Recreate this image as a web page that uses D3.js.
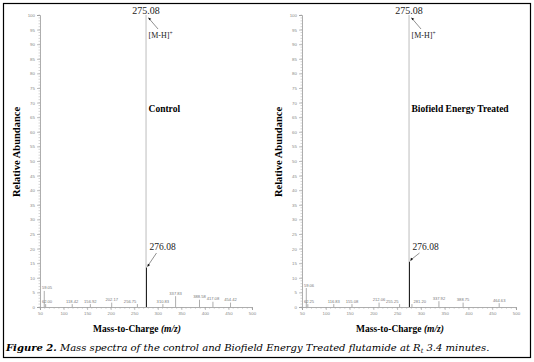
<!DOCTYPE html>
<html><head><meta charset="utf-8">
<script src="https://cdn.jsdelivr.net/npm/d3@7"></script>
<style>body{margin:0;background:#fff}svg{display:block}</style></head>
<body>
<script>
// ---- data ----
const controlMz = [59.05, 62.00, 118.42, 156.92, 202.17, 256.75, 275.08, 276.08, 310.83, 337.83, 388.58, 417.08, 454.42];
const controlAb = [5.5, 1.0, 1.0, 1.0, 1.5, 1.0, 100, 13.5, 1.0, 3.7, 2.5, 1.8, 1.5];
const treatedMz = [59.06, 62.25, 116.83, 155.08, 212.06, 255.25, 275.08, 276.08, 281.20, 337.92, 388.75, 464.63];
const treatedAb = [6.5, 1.0, 1.0, 1.0, 1.5, 1.0, 100, 15.5, 1.0, 2.0, 1.5, 1.3];
const xTicks = [50, 100, 150, 200, 250, 300, 350, 400, 450, 500];
const yTicks = d3.range(0, 101, 5);
const yMinor = d3.range(0, 101, 1);
const xMinor = d3.range(50, 501, 10);
const panelTitles = ["Control", "Biofield Energy Treated"];

const W = 534, H = 362;
const svg = d3.select("body").append("svg").attr("width", W).attr("height", H);
svg.append("rect").attr("x", 3.5).attr("y", 3.5).attr("width", 527).attr("height", 354)
  .attr("fill", "#fff").attr("stroke", "#000").attr("stroke-width", 1.2);

const serif = "'Liberation Serif', 'DejaVu Serif', serif";
const sans = "'Liberation Sans', Arial, sans-serif";

function panel(x0, x1, mz, ab, title) {
  const x = d3.scaleLinear().domain([50, 500]).range([x0, x1]);
  const y = d3.scaleLinear().domain([0, 100]).range([307, 15]);
  const g = svg.append("g");

  // y axis
  const ya = g.append("g").attr("transform", `translate(${x0},0)`)
    .call(d3.axisLeft(y).tickValues(yTicks).tickSize(3).tickPadding(2).tickFormat(d3.format("d")));
  ya.select(".domain").attr("stroke", "#999").attr("stroke-width", 0.8);
  ya.selectAll(".tick line").attr("stroke", "#999").attr("stroke-width", 0.6);
  ya.selectAll("text").attr("font-family", sans).attr("font-size", 4.4).attr("fill", "#888");
  g.append("g").selectAll("line").data(yMinor).join("line")
    .attr("x1", x0).attr("x2", x0 - 1.5).attr("y1", d => y(d)).attr("y2", d => y(d))
    .attr("stroke", "#aaa").attr("stroke-width", 0.5);

  // x axis
  const xa = g.append("g").attr("transform", `translate(0,307)`)
    .call(d3.axisBottom(x).tickValues(xTicks).tickSize(3).tickPadding(2).tickFormat(d3.format("d")));
  xa.select(".domain").attr("stroke", "#999").attr("stroke-width", 0.8);
  xa.selectAll(".tick line").attr("stroke", "#999").attr("stroke-width", 0.6);
  xa.selectAll("text").attr("font-family", sans).attr("font-size", 4.4).attr("fill", "#888");
  g.append("g").selectAll("line").data(xMinor).join("line")
    .attr("x1", d => x(d)).attr("x2", d => x(d)).attr("y1", 307).attr("y2", 308.8)
    .attr("stroke", "#aaa").attr("stroke-width", 0.5);

  const peaks = mz.map((m, i) => ({ m, a: ab[i] }));
  const base = peaks.find(d => d.a >= 100);
  const iso = peaks.find(d => d.a > 10 && d.a < 100);
  const bx = x(base.m);

  // peaks
  g.append("g").selectAll("line").data(peaks).join("line")
    .attr("x1", d => x(d.m)).attr("x2", d => x(d.m))
    .attr("y1", y(0)).attr("y2", d => y(d.a))
    .attr("stroke", d => d.a >= 100 ? "#bdbdbd" : (d.a > 10 ? "#222" : "#999"))
    .attr("stroke-width", d => d.a > 10 ? 1 : 0.8);

  // small peak labels (pushed away from the base peak to avoid overlap)
  g.append("g").selectAll("text").data(peaks.filter(d => d.a < 10)).join("text")
    .each(function (d) {
      const px = x(d.m), t = d3.select(this);
      if (px < bx && bx - px < 14) t.attr("x", px - 1).attr("text-anchor", "end");
      else if (px > bx && px - bx < 14) t.attr("x", px + 1.5).attr("text-anchor", "start");
      else t.attr("x", Math.max(px, x0 + 7)).attr("text-anchor", "middle");
    })
    .attr("y", d => y(d.a) - 1.5)
    .attr("font-family", sans).attr("font-size", 4.1)
    .attr("fill", "#777").text(d => d.m.toFixed(2));

  // big annotations
  g.append("text").attr("x", bx).attr("y", 14).attr("text-anchor", "middle")
    .attr("font-family", serif).attr("font-size", 10).attr("fill", "#222").text(base.m.toFixed(2));
  g.append("line").attr("x1", bx + 12).attr("y1", 29).attr("x2", bx + 3).attr("y2", 18.5)
    .attr("stroke", "#444").attr("stroke-width", 0.6);
  g.append("path").attr("d", `M${bx + 2},${17.5} l3.2,1.2 l-1.8,1.6 z`).attr("fill", "#111");
  const mh = g.append("text").attr("x", bx + 2.5).attr("y", 38).attr("font-family", serif)
    .attr("font-size", 8).attr("fill", "#222");
  mh.append("tspan").text("[M-H]");
  mh.append("tspan").attr("dy", -3).attr("font-size", 5.5).text("+");

  g.append("text").attr("x", bx + 2.5).attr("y", 112).attr("font-family", serif)
    .attr("font-weight", "bold").attr("font-size", 9.5).attr("fill", "#000").text(title);

  const ix = x(iso.m), iy = y(iso.a);
  g.append("text").attr("x", ix + 3).attr("y", 250).attr("font-family", serif)
    .attr("font-size", 9.5).attr("fill", "#222").text(iso.m.toFixed(2));
  g.append("line").attr("x1", ix + 10).attr("y1", 253).attr("x2", ix + 1.5).attr("y2", iy - 2)
    .attr("stroke", "#444").attr("stroke-width", 0.6);
  g.append("path").attr("d", `M${ix + 0.8},${iy - 0.5} l0.6,-3.4 l2.2,1.2 z`).attr("fill", "#111");

  // axis titles
  g.append("text").attr("transform", `translate(${x0 - 20},152) rotate(-90)`)
    .attr("text-anchor", "middle").attr("font-family", serif).attr("font-weight", "bold")
    .attr("font-size", 10.5).attr("fill", "#000").text("Relative Abundance");
  const xt = g.append("text").attr("x", (x0 + x1) / 2 - 9).attr("y", 332).attr("text-anchor", "middle")
    .attr("font-family", serif).attr("font-weight", "bold").attr("font-size", 9.5).attr("fill", "#000");
  xt.append("tspan").text("Mass-to-Charge ");
  xt.append("tspan").attr("font-style", "italic").text("(m/z)");
}

panel(40, 252, controlMz, controlAb, panelTitles[0]);
panel(302, 516, treatedMz, treatedAb, panelTitles[1]);

// caption
const cap = svg.append("text").attr("x", 6).attr("y", 351).attr("font-family", "'DejaVu Serif', serif")
  .attr("font-size", 10).attr("font-style", "italic").attr("fill", "#000");
cap.append("tspan").attr("font-weight", "bold").text("Figure 2.");
cap.append("tspan").text(" Mass spectra of the control and Biofield Energy Treated flutamide at R");
cap.append("tspan").attr("font-size", 6.5).attr("dy", 2).text("t");
cap.append("tspan").attr("dy", -2).text(" 3.4 minutes.");
</script>
</body></html>
